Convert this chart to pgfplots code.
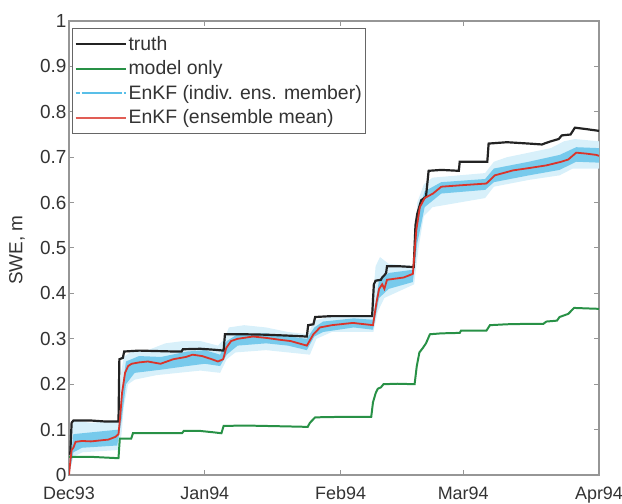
\documentclass[border=0pt]{standalone}
\usepackage{pgfplots}
\pgfplotsset{compat=1.18}
\usepgfplotslibrary{fillbetween}
\usepackage{fontspec}
\setmainfont{Liberation Sans}
\definecolor{truthc}{RGB}{35,35,35}
\definecolor{modelc}{RGB}{40,145,70}
\definecolor{ensc}{RGB}{60,180,228}
\definecolor{meanc}{RGB}{218,52,42}
\definecolor{axc}{RGB}{150,150,150}
\begin{document}
\begin{tikzpicture}
\begin{axis}[
  name=ax,
  scale only axis,
  width=530bp, height=454bp,
  xmin=0, xmax=121, ymin=0, ymax=1,
  xtick={0,31,62,90,121},
  xticklabels={Dec93,Jan94,Feb94,Mar94,Apr94},
  ytick={0,0.1,0.2,0.3,0.4,0.5,0.6,0.7,0.8,0.9,1},
  yticklabels={0,0.1,0.2,0.3,0.4,0.5,0.6,0.7,0.8,0.9,1},
  tick align=inside,
  major tick length=5bp,
  axis line style={draw=axc, line width=1.3pt},
  every tick/.style={draw=axc, line width=1pt},
  ticklabel style={font=\fontsize{19}{22}\selectfont, text=black!80},
  xticklabel style={font=\fontsize{18}{21}\selectfont, yshift=-8bp},
  yticklabel style={xshift=1bp},
  ylabel={SWE, m},
  ylabel style={font=\fontsize{19}{22}\selectfont, text=black!80,
    at={(axis description cs:-0.098,0.495)}, anchor=center},
  legend cell align=left,
  legend style={at={(0.006,0.985)}, anchor=north west, draw=black!60, line width=0.8pt,
    font=\fontsize{19.5}{22}\selectfont, text=black!80, inner xsep=2bp, inner ysep=6bp,
    row sep=5bp},
  legend image code/.code={\path (0bp,0bp) -- (50bp,0bp); \draw[#1] (9bp,0bp) -- (44bp,0bp);},
]
\addlegendimage{truthc, line width=2pt}
\addlegendentry{truth}
\addlegendimage{modelc, line width=2pt}
\addlegendentry{model only}
\addlegendimage{ensc!85, line width=1.8pt, dash pattern=on 4bp off 2bp}
\addlegendentry{EnKF (indiv. ens. member)}
\addlegendimage{meanc!80, line width=1.8pt}
\addlegendentry{EnKF (ensemble mean)}

% outer ensemble envelope
\addplot[draw=none, name path=ou, forget plot] coordinates {
(0,0.01)(0.5,0.1)(1,0.12)(5,0.115)(11.3,0.12)(11.8,0.22)(12.5,0.26)(14,0.27)(18,0.275)(22,0.29)(26,0.295)(30,0.295)(34,0.285)(35.5,0.3)(36.5,0.325)(40,0.33)(45,0.325)(50,0.315)(54.5,0.31)(56,0.34)(60,0.35)(69,0.35)(70,0.46)(71,0.48)(73,0.465)(78.7,0.46)(79.5,0.6)(81,0.64)(83,0.655)(89,0.66)(95,0.665)(97,0.69)(100,0.7)(105,0.71)(110,0.72)(113,0.735)(115.5,0.74)(121,0.735)};
\addplot[draw=none, name path=ol, forget plot] coordinates {
(0,0)(1,0.04)(3,0.05)(11.3,0.055)(12,0.09)(12.5,0.15)(13.5,0.2)(15,0.21)(20,0.22)(25,0.225)(30,0.23)(34.5,0.225)(36,0.255)(38,0.27)(45,0.275)(50,0.27)(55,0.265)(56.5,0.3)(60,0.315)(69.5,0.315)(70.5,0.36)(72,0.39)(78.8,0.42)(79.8,0.5)(81,0.57)(83,0.59)(89,0.6)(95,0.61)(97,0.635)(105,0.65)(112,0.66)(115,0.675)(121,0.675)};
\addplot[ensc!20, draw=none, forget plot] fill between[of=ou and ol];
% inner dense envelope
\addplot[draw=none, name path=iu, forget plot] coordinates {
(0,0.005)(1,0.09)(11.3,0.1)(12,0.18)(13,0.25)(16,0.262)(21,0.26)(27,0.272)(31,0.275)(34.5,0.265)(36,0.295)(38.5,0.31)(45,0.312)(50,0.305)(54.3,0.3)(56,0.325)(58,0.338)(65,0.345)(69.4,0.342)(70.8,0.43)(73,0.445)(78.5,0.452)(79.5,0.57)(81.2,0.625)(85,0.645)(95,0.652)(97,0.675)(105,0.69)(112,0.705)(115.8,0.722)(121,0.72)};
\addplot[draw=none, name path=il, forget plot] coordinates {
(0,0)(1,0.05)(3,0.06)(11,0.065)(12,0.12)(13,0.2)(15,0.225)(21,0.232)(27,0.24)(31,0.245)(34.5,0.24)(36,0.265)(38.5,0.285)(45,0.29)(50,0.285)(54.3,0.275)(56,0.305)(58,0.315)(65,0.325)(69.4,0.32)(70.8,0.39)(73,0.41)(78.5,0.425)(79.5,0.51)(81.2,0.59)(85,0.62)(95,0.628)(97,0.645)(105,0.66)(112,0.672)(115.8,0.69)(121,0.688)};
\addplot[ensc!70, draw=none, forget plot] fill between[of=iu and il];

% model only
\addplot[modelc, line width=2pt, forget plot] coordinates {
(0,0.04)(5,0.04)(11.3,0.037)(11.6,0.08)(14.2,0.08)(14.6,0.092)(20,0.092)(25.8,0.092)(26.2,0.097)(30,0.097)(33,0.094)(34.8,0.092)(35.3,0.108)(40,0.109)(45,0.108)(50,0.107)(54.5,0.106)(55,0.115)(56.2,0.127)(62,0.128)(69,0.128)(69.4,0.16)(70,0.18)(70.5,0.19)(71.2,0.193)(71.8,0.2)(75,0.201)(78.9,0.2)(79.4,0.24)(80,0.27)(80.8,0.28)(81.5,0.29)(82.4,0.31)(85,0.312)(89.2,0.313)(89.5,0.318)(95.3,0.318)(96.1,0.33)(100,0.332)(105,0.333)(108.3,0.333)(109,0.338)(111.4,0.34)(112,0.348)(114,0.355)(115.3,0.368)(118,0.367)(121,0.366)};
% truth
\addplot[truthc, line width=2.2pt, forget plot] coordinates {
(0,0.045)(0.3,0.05)(0.6,0.115)(1,0.12)(5,0.12)(8,0.118)(11.3,0.118)(11.5,0.255)(12.3,0.258)(12.6,0.272)(16,0.274)(20,0.273)(24,0.272)(25.7,0.272)(26,0.277)(30,0.278)(33,0.276)(35.3,0.274)(35.6,0.31)(40,0.31)(45,0.309)(50,0.307)(54.3,0.305)(54.6,0.33)(55.8,0.332)(56.2,0.348)(60,0.35)(65,0.35)(69.2,0.35)(69.6,0.42)(70,0.428)(71.2,0.43)(71.5,0.435)(72,0.44)(72.4,0.445)(72.6,0.46)(75,0.46)(78.7,0.458)(79.1,0.55)(79.5,0.575)(80.4,0.605)(81.5,0.613)(82.1,0.67)(85,0.672)(89,0.67)(89.2,0.69)(92,0.69)(95.5,0.69)(95.8,0.73)(100,0.733)(105,0.73)(108,0.728)(108.5,0.73)(110,0.735)(111.8,0.74)(112.5,0.748)(114.5,0.75)(115.5,0.765)(118,0.762)(121,0.758)};
% ensemble mean
\addplot[meanc, line width=1.8pt, forget plot] coordinates {
(0,0)(0.3,0.03)(0.6,0.055)(1,0.06)(1.5,0.073)(3,0.075)(5,0.074)(7,0.076)(9,0.078)(10.6,0.084)(11.3,0.09)(11.7,0.13)(12.1,0.18)(12.8,0.225)(13.5,0.24)(14.3,0.245)(16,0.248)(18,0.25)(20.9,0.245)(23.8,0.255)(26.7,0.26)(28.2,0.265)(30.4,0.262)(32.6,0.255)(34,0.25)(35.2,0.255)(35.9,0.28)(37,0.295)(38.5,0.3)(42,0.305)(45,0.302)(48,0.298)(50.6,0.295)(54.3,0.285)(55.8,0.31)(57.3,0.325)(60,0.33)(64.8,0.335)(69.4,0.33)(70.2,0.38)(70.8,0.41)(71.5,0.42)(72,0.41)(72.6,0.43)(76.4,0.435)(78.5,0.443)(79.3,0.54)(80.1,0.59)(81.2,0.61)(83.1,0.62)(85,0.635)(89.2,0.638)(95.3,0.642)(97.2,0.66)(101.4,0.671)(105,0.676)(109,0.682)(112.4,0.69)(114,0.695)(115.8,0.71)(118,0.708)(120.4,0.705)(121,0.703)};
\end{axis}
\pgfresetboundingbox
\path ([xshift=-69bp,yshift=-29bp]ax.south west) rectangle ([xshift=23bp,yshift=21bp]ax.north east);
\end{tikzpicture}
\end{document}
